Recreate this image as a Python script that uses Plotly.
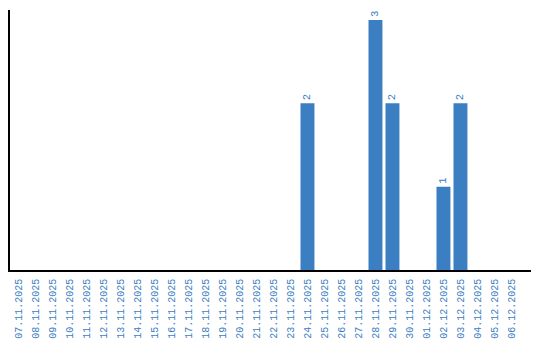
import plotly.graph_objects as go

dates = ["07.11.2025","08.11.2025","09.11.2025","10.11.2025","11.11.2025","12.11.2025",
         "13.11.2025","14.11.2025","15.11.2025","16.11.2025","17.11.2025","18.11.2025",
         "19.11.2025","20.11.2025","21.11.2025","22.11.2025","23.11.2025","24.11.2025",
         "25.11.2025","26.11.2025","27.11.2025","28.11.2025","29.11.2025","30.11.2025",
         "01.12.2025","02.12.2025","03.12.2025","04.12.2025","05.12.2025","06.12.2025"]
counts = [0,0,0,0,0,0,0,0,0,0,0,0,0,0,0,0,0,2,0,0,0,3,2,0,0,1,2,0,0,0]

blue = "rgb(59,126,194)"
font = "Liberation Mono, Courier New, monospace"

fig = go.Figure(go.Bar(
    x=list(range(len(dates))), y=counts,
    marker=dict(color=blue, line=dict(width=0)),
    text=[str(c) if c else "" for c in counts],
    textposition="outside", textangle=-90, cliponaxis=False,
    textfont=dict(family=font, size=10.5, color=blue),
))
fig.update_layout(
    width=540, height=340,
    margin=dict(l=10, r=9, t=10, b=70, autoexpand=False),
    paper_bgcolor="white", plot_bgcolor="white",
    bargap=0.18, showlegend=False,
    xaxis=dict(range=[-0.5, 30.15], tickmode="array", automargin=False,
               tickvals=list(range(len(dates))), ticktext=dates,
               tickangle=-90, tickfont=dict(family=font, size=10, color=blue),
               showline=True, linecolor="black", linewidth=1.5,
               showgrid=False, ticks="", ticklen=0, ticklabelstandoff=3),
    yaxis=dict(range=[0, 3.12], showline=True, linecolor="black", linewidth=1.5,
               showgrid=False, showticklabels=False, ticks="", zeroline=False,
               automargin=False),
    uniformtext=dict(minsize=1),
)
fig.write_html("out.html")
